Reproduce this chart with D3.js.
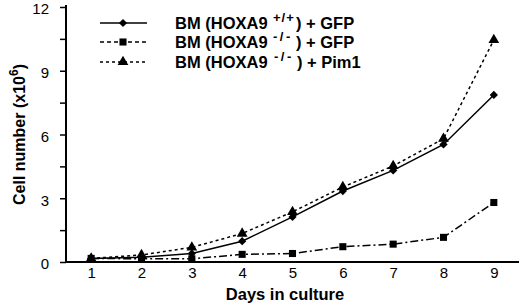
<!DOCTYPE html>
<html>
<head>
<meta charset="utf-8">
<script src="https://cdn.jsdelivr.net/npm/d3@7"></script>
<style>
  body { margin: 0; background: #fff; }
  svg { display: block; font-family: Arial, "Liberation Sans", sans-serif; }
</style>
</head>
<body>
<script>
const w = 520, h = 308;
const margin = {top: 7, right: 1, bottom: 46, left: 66};

// days in culture
const days = [1, 2, 3, 4, 5, 6, 7, 8, 9];
// cell number (x10^6)
const wtGfp   = [0.17, 0.22, 0.40, 0.98, 2.12, 3.34, 4.31, 5.53, 7.86];
const koGfp   = [0.17, 0.15, 0.15, 0.36, 0.40, 0.72, 0.84, 1.16, 2.80];
const koPim1  = [0.17, 0.33, 0.69, 1.34, 2.36, 3.53, 4.52, 5.80, 10.45];
const yTicks = [0, 1.5, 3, 4.5, 6, 7.5, 9, 10.5, 12];

const seriesNames = [
  {pre: 'BM (HOXA9', sup: '+/+', tail: '+ GFP'},
  {pre: 'BM (HOXA9', sup: '-/-', tail: '+ GFP'},
  {pre: 'BM (HOXA9', sup: '-/-', tail: '+ Pim1'}
];
const seriesValues = [wtGfp, koGfp, koPim1];
const dashes = [null, '8,3,2,3', '3,3'];
const legendDashes = [null, '4,3', '3,3'];
const symbols = [d3.symbolSquare, d3.symbolSquare, d3.symbolTriangle];
const symSizes = [34, 50, 50];
const symRotate = [45, 0, 0];

const svg = d3.select('body').append('svg')
  .attr('width', w).attr('height', h);

const x = d3.scaleLinear().domain([0.5, 9.5]).range([margin.left, w - margin.right]);
const y = d3.scaleLinear().domain([0, 12]).range([h - margin.bottom, margin.top]);

// y axis
const yAxis = d3.axisLeft(y).tickValues(yTicks).tickSize(6).tickPadding(11)
  .tickFormat(d => d % 3 === 0 ? d : '');
const gy = svg.append('g')
  .attr('transform', `translate(${margin.left},0)`)
  .call(yAxis);
gy.select('.domain').attr('d', `M0,${margin.top - 2}V${h - margin.bottom}`).attr('stroke-width', 2);
gy.selectAll('.tick line').attr('stroke-width', 1.5);
gy.selectAll('.tick text').attr('font-size', 15).attr('fill', '#000').attr('dy', '0.45em')
  .attr('font-family', 'Arial, "Liberation Sans", sans-serif');

// x axis
const xAxis = d3.axisBottom(x).tickValues(days).tickSize(0).tickPadding(5);
const gx = svg.append('g')
  .attr('transform', `translate(0,${h - margin.bottom})`)
  .call(xAxis);
gx.select('.domain').attr('d', `M${margin.left},0H${w - margin.right}`).attr('stroke-width', 2);
gx.selectAll('.tick text').attr('font-size', 15).attr('fill', '#000')
  .attr('font-family', 'Arial, "Liberation Sans", sans-serif');

// axis titles
svg.append('text')
  .attr('x', 285).attr('y', 300)
  .attr('text-anchor', 'middle')
  .attr('font-size', 16.5).attr('font-weight', 'bold')
  .text('Days in culture');

const yt = svg.append('text')
  .attr('transform', `translate(25,${(margin.top + h - margin.bottom) / 2}) rotate(-90)`)
  .attr('text-anchor', 'middle')
  .attr('font-size', 16).attr('font-weight', 'bold');
yt.append('tspan').text('Cell number (x10');
yt.append('tspan').attr('font-size', 12).attr('dy', -7).text('6');
yt.append('tspan').attr('dy', 7).text(')');

// lines + markers
const line = d3.line().x((d, i) => x(days[i])).y(d => y(d));

seriesValues.forEach((vals, k) => {
  svg.append('path')
    .datum(vals)
    .attr('d', line)
    .attr('fill', 'none')
    .attr('stroke', '#000')
    .attr('stroke-width', 1.5)
    .attr('stroke-dasharray', dashes[k]);

  svg.selectAll('.m' + k)
    .data(vals)
    .enter()
    .append('path')
    .attr('class', 'm' + k)
    .attr('d', d3.symbol().type(symbols[k]).size(symSizes[k]))
    .attr('transform', (d, i) => `translate(${x(days[i])},${y(d)}) rotate(${symRotate[k]})`)
    .attr('fill', '#000');
});

// legend
const legendY = [23, 42, 62];
const legend = svg.append('g');
seriesNames.forEach((s, k) => {
  const g = legend.append('g').attr('transform', `translate(0,${legendY[k]})`);
  g.append('line')
    .attr('x1', 100).attr('x2', 147)
    .attr('stroke', '#000').attr('stroke-width', 1.5)
    .attr('stroke-dasharray', legendDashes[k]);
  g.append('path')
    .attr('d', d3.symbol().type(symbols[k]).size(symSizes[k]))
    .attr('transform', `translate(123,0) rotate(${symRotate[k]})`)
    .attr('fill', '#000');
  const t = g.append('text')
    .attr('x', 175).attr('y', 6)
    .attr('font-size', 16.5).attr('font-weight', 'bold');
  const shift = k === 2 ? 1 : 0;
  t.append('tspan').text(s.pre);
  t.append('tspan').attr('font-size', 13).attr('x', 273 + shift).attr('dy', -7)
    .attr('letter-spacing', s.sup === '-/-' ? 2.5 : 1).text(s.sup);
  t.append('tspan').attr('x', 296 + shift).attr('dy', 7).text(')');
  t.append('tspan').attr('x', 306 + shift).text(s.tail);
});
</script>
</body>
</html>
